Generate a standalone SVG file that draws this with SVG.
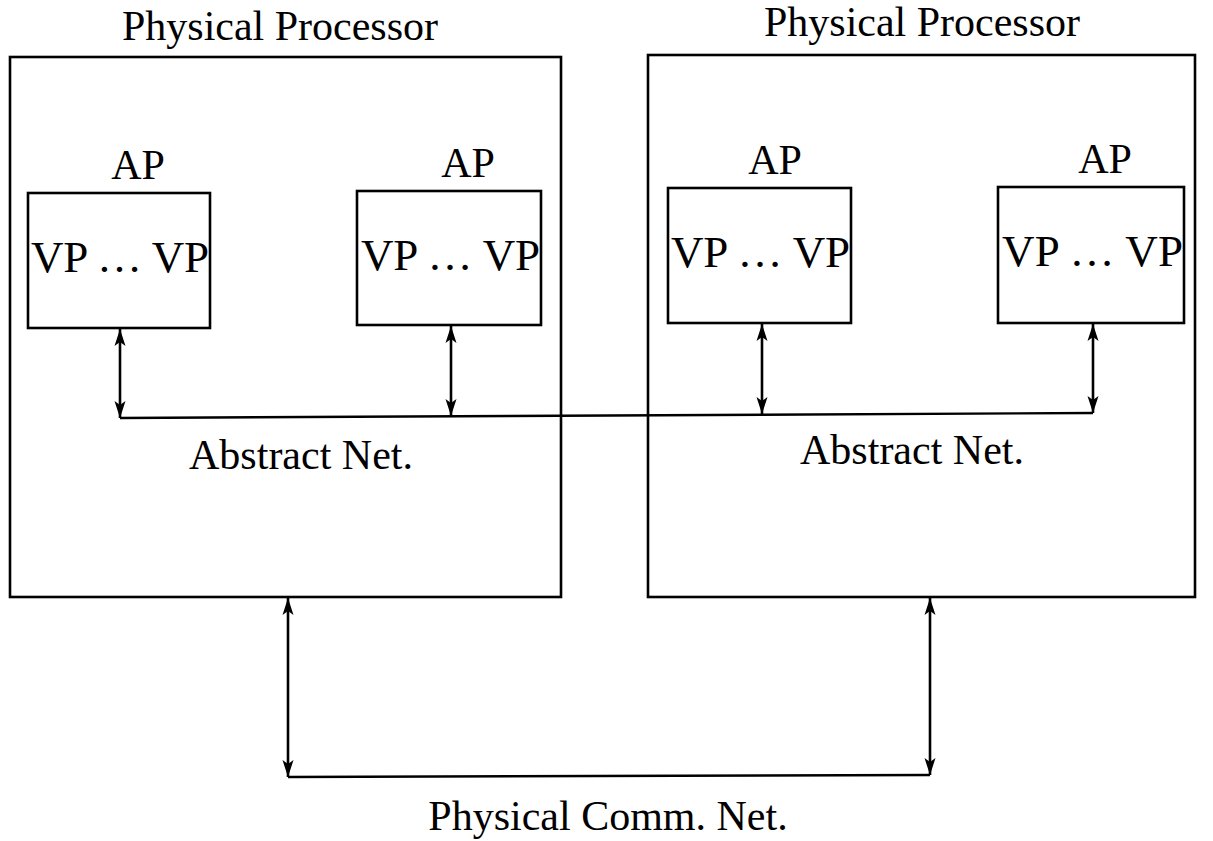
<svg xmlns="http://www.w3.org/2000/svg" width="1213" height="841" viewBox="0 0 1213 841">
  <defs>
    <style>
      .box { fill: none; stroke: #000; stroke-width: 2.6; }
      .wire { fill: none; stroke: #000; stroke-width: 2.4; }
      .arrow { fill: none; stroke: #000; stroke-width: 2.6; marker-start: url(#head); marker-end: url(#head); }
      .lbl { font-family: "Liberation Serif", "Times New Roman", serif; font-size: 42px; fill: #000; }
      .vp { font-size: 45px; }
      .mid { text-anchor: middle; }
    </style>
    <marker id="head" viewBox="-1 -7 20 14" refX="17" refY="0" markerWidth="20" markerHeight="14" markerUnits="userSpaceOnUse" orient="auto-start-reverse">
      <path d="M0,-5.5 L17,0 L0,5.5 L4,0 Z" fill="#000"/>
    </marker>
  </defs>

  <rect width="1213" height="841" fill="#fff"/>

  <!-- physical processor, left -->
  <g id="pp-left">
    <text class="lbl mid" x="280" y="40">Physical Processor</text>
    <rect class="box" x="10" y="57" width="551" height="540"/>
    <text class="lbl mid" x="301" y="469">Abstract Net.</text>
  </g>

  <!-- physical processor, right -->
  <g id="pp-right">
    <text class="lbl mid" x="922" y="36">Physical Processor</text>
    <rect class="box" x="648" y="55" width="547" height="542"/>
    <text class="lbl mid" x="912" y="464">Abstract Net.</text>
  </g>

  <!-- abstract processors -->
  <g id="ap-1">
    <text class="lbl mid" x="138" y="179">AP</text>
    <rect class="box" x="28" y="193" width="182" height="135"/>
    <text class="lbl vp" x="31" y="272" textLength="178" lengthAdjust="spacing">VP … VP</text>
  </g>
  <g id="ap-2">
    <text class="lbl mid" x="468" y="177">AP</text>
    <rect class="box" x="357" y="191" width="184" height="134"/>
    <text class="lbl vp" x="361" y="270" textLength="179" lengthAdjust="spacing">VP … VP</text>
  </g>
  <g id="ap-3">
    <text class="lbl mid" x="775" y="174">AP</text>
    <rect class="box" x="668" y="188" width="183" height="135"/>
    <text class="lbl vp" x="671" y="267" textLength="179" lengthAdjust="spacing">VP … VP</text>
  </g>
  <g id="ap-4">
    <text class="lbl mid" x="1105" y="173">AP</text>
    <rect class="box" x="998" y="187" width="186" height="136"/>
    <text class="lbl vp" x="1002" y="266" textLength="181" lengthAdjust="spacing">VP … VP</text>
  </g>

  <!-- physical comm. net. label -->
  <g id="comm-net">
    <text class="lbl mid" x="608" y="830">Physical Comm. Net.</text>
  </g>

  <!-- connectors -->
  <g id="connectors">
    <!-- abstract net bus -->
    <line class="wire" x1="120" y1="418" x2="1093" y2="413"/>
    <line class="arrow" x1="120" y1="329" x2="120" y2="418"/>
    <line class="arrow" x1="451" y1="326" x2="451" y2="416"/>
    <line class="arrow" x1="762" y1="324" x2="762" y2="414"/>
    <line class="arrow" x1="1093" y1="324" x2="1093" y2="413"/>
    <!-- physical comm. bus -->
    <line class="wire" x1="288" y1="777" x2="930" y2="775"/>
    <line class="arrow" x1="288" y1="598" x2="288" y2="777"/>
    <line class="arrow" x1="930" y1="598" x2="930" y2="775"/>
  </g>
</svg>
